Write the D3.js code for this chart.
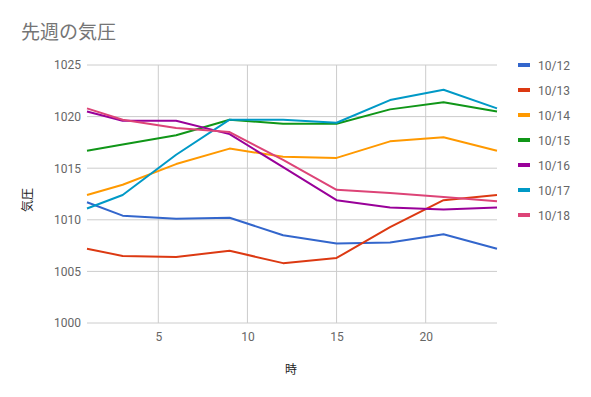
<!DOCTYPE html>
<html>
<head>
<meta charset="utf-8">
<script src="https://cdn.jsdelivr.net/npm/d3@7"></script>
<style>
    body { margin: 0; background: #fff; }
    text { font-family: Roboto, "Noto Sans CJK JP", sans-serif; }
</style>
</head>
<body>
<svg id="chart" width="591" height="397"></svg>
<script>
// hours along the x axis
const hours = [1, 3, 6, 9, 12, 15, 18, 21, 24];

// one series per day
const seriesNames = ['10/12', '10/13', '10/14', '10/15', '10/16', '10/17', '10/18'];
const p1012 = [1011.7, 1010.4, 1010.1, 1010.2, 1008.5, 1007.7, 1007.8, 1008.6, 1007.2];
const p1013 = [1007.2, 1006.5, 1006.4, 1007.0, 1005.8, 1006.3, 1009.3, 1011.9, 1012.4];
const p1014 = [1012.4, 1013.4, 1015.4, 1016.9, 1016.1, 1016.0, 1017.6, 1018.0, 1016.7];
const p1015 = [1016.7, 1017.3, 1018.2, 1019.7, 1019.3, 1019.3, 1020.7, 1021.4, 1020.5];
const p1016 = [1020.5, 1019.6, 1019.6, 1018.3, 1015.1, 1011.9, 1011.2, 1011.0, 1011.2];
const p1017 = [1011.1, 1012.4, 1016.3, 1019.7, 1019.7, 1019.4, 1021.6, 1022.6, 1020.8];
const p1018 = [1020.8, 1019.7, 1018.9, 1018.5, 1015.8, 1012.9, 1012.6, 1012.2, 1011.8];

const xTicks = [5, 10, 15, 20];
const yTicks = [1000, 1005, 1010, 1015, 1020, 1025];

const colors = ['#3366cc', '#dc3912', '#ff9900', '#109618', '#990099', '#0099c6', '#dd4477'];

const series = [p1012, p1013, p1014, p1015, p1016, p1017, p1018].map((vals, i) => ({
    name: seriesNames[i],
    values: vals.map((v, j) => ({ x: hours[j], y: v }))
}));

const svg = d3.select('#chart');
const margin = { left: 87, top: 65, right: 94, bottom: 74 };
const width = 591 - margin.left - margin.right;
const height = 397 - margin.top - margin.bottom;

const x = d3.scaleLinear().domain([1, 24]).range([0, width]);
const y = d3.scaleLinear().domain([1000, 1025]).range([height, 0]);

const g = svg.append('g')
    .attr('transform', `translate(${margin.left},${margin.top})`);

// grid
g.append('g')
    .selectAll('line')
    .data(xTicks)
    .enter().append('line')
    .attr('x1', d => x(d)).attr('x2', d => x(d))
    .attr('y1', 0).attr('y2', height)
    .attr('stroke', '#cccccc');

g.append('g')
    .selectAll('line')
    .data(yTicks)
    .enter().append('line')
    .attr('x1', 0).attr('x2', width)
    .attr('y1', d => y(d)).attr('y2', d => y(d))
    .attr('stroke', '#cccccc');

// tick labels
const yAxis = g.append('g')
    .call(d3.axisLeft(y).tickValues(yTicks).tickSize(0).tickPadding(6).tickFormat(d3.format('d')));
yAxis.select('.domain').remove();
yAxis.selectAll('.tick text')
    .attr('fill', '#666').style('font-size', '12px');

const xAxis = g.append('g')
    .attr('transform', `translate(0,${height})`)
    .call(d3.axisBottom(x).tickValues(xTicks).tickSize(0).tickPadding(9));
xAxis.select('.domain').remove();
xAxis.selectAll('.tick text')
    .attr('fill', '#666').style('font-size', '12px');

// lines
const line = d3.line()
    .x(d => x(d.x))
    .y(d => y(d.y));

g.append('g')
    .selectAll('path')
    .data(series)
    .enter().append('path')
    .attr('d', d => line(d.values))
    .attr('fill', 'none')
    .attr('stroke', (d, i) => colors[i])
    .attr('stroke-width', 2)
    .attr('stroke-linejoin', 'round');

// title & axis titles
svg.append('text')
    .attr('x', 21).attr('y', 39)
    .attr('fill', '#757575')
    .style('font-size', '19px')
    .text('先週の気圧');

svg.append('text')
    .attr('transform', 'translate(32,200) rotate(-90)')
    .attr('text-anchor', 'middle')
    .attr('fill', '#222')
    .style('font-size', '12px')
    .text('気圧');

svg.append('text')
    .attr('x', 291).attr('y', 374)
    .attr('text-anchor', 'middle')
    .attr('fill', '#222')
    .style('font-size', '12px')
    .text('時');

// legend
const legend = svg.append('g')
    .attr('transform', 'translate(518,65)')
    .selectAll('g')
    .data(series)
    .enter().append('g')
    .attr('transform', (d, i) => `translate(0,${i * 25})`);

legend.append('rect')
    .attr('x', 0).attr('y', -2)
    .attr('width', 12).attr('height', 4)
    .attr('fill', (d, i) => colors[i]);

legend.append('text')
    .attr('x', 20).attr('y', 4.5)
    .attr('fill', '#666')
    .style('font-size', '12px')
    .text(d => d.name);
</script>
</body>
</html>
